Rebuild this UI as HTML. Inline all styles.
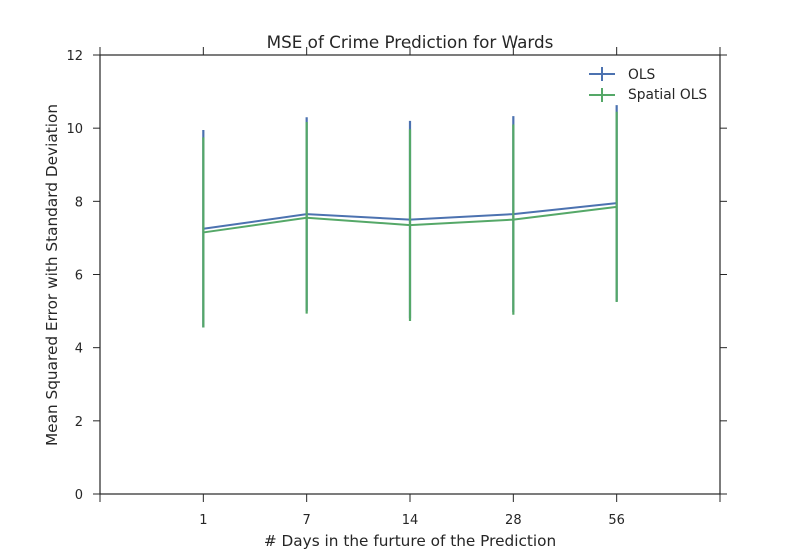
<!DOCTYPE html>
<html><head><meta charset="utf-8"><style>body{margin:0;background:#fff}svg text{font-family:"DejaVu Sans","Liberation Sans",sans-serif;fill:#262626}</style></head>
<body>
<svg id="chart" width="800" height="550">
<rect width="800" height="550" fill="#fff"/>
<text x="410" y="48" text-anchor="middle" font-size="16.8">MSE of Crime Prediction for Wards</text>
<text x="410" y="546" text-anchor="middle" font-size="15.3"># Days in the furture of the Prediction</text>
<text transform="translate(57,275) rotate(-90)" text-anchor="middle" font-size="15.3">Mean Squared Error with Standard Deviation</text>
<g id="axes"></g><g id="marks"></g>
<g>
<g><line x1="589" y1="74" x2="615" y2="74" stroke="#4c72b0" stroke-width="2"/><line x1="602" y1="67" x2="602" y2="81" stroke="#4c72b0" stroke-width="2"/><text x="628" y="79" font-size="13.8">OLS</text></g>
<g><line x1="589" y1="95" x2="615" y2="95" stroke="#55a868" stroke-width="2"/><line x1="602" y1="88" x2="602" y2="102" stroke="#55a868" stroke-width="2"/><text x="628" y="99" font-size="13.8">Spatial OLS</text></g>
</g>
</svg>
<script>
const categories=["1","7","14","28","56"];
const olsMean=[7.25,7.65,7.5,7.65,7.95];
const olsStd=[2.7,2.65,2.7,2.68,2.68];
const spMean=[7.15,7.55,7.35,7.5,7.85];
const spStd=[2.6,2.62,2.62,2.6,2.6];
const yTicks=[0,2,4,6,8,10,12];
const L=100,R=720,T=55,B=494;
const NS="http://www.w3.org/2000/svg";
const xS=i=>L+(i+1)*(R-L)/(categories.length+1);
const yS=v=>B-v*(B-T)/12;
function mk(tag,at,parent){const e=document.createElementNS(NS,tag);for(const k in at)e.setAttribute(k,at[k]);parent.appendChild(e);return e;}
const ax=document.getElementById('axes'),mg=document.getElementById('marks');
const frame=mk('rect',{x:L,y:T,width:R-L,height:B-T,fill:'none',stroke:'#262626','stroke-width':1.2},ax);


yTicks.forEach(v=>{const y=yS(v);
mk('line',{x1:L-7,x2:L,y1:y,y2:y,stroke:'#262626'},ax);mk('line',{x1:R,x2:R+7,y1:y,y2:y,stroke:'#262626'},ax);
const t=mk('text',{x:L-17,y:y+5,'text-anchor':'end','font-size':13},ax);t.textContent=v;

});
const xt=[L,...categories.map((c,i)=>xS(i)),R];
xt.forEach(x=>{mk('line',{x1:x,x2:x,y1:B,y2:B+8,stroke:'#262626'},ax);mk('line',{x1:x,x2:x,y1:T-8,y2:T,stroke:'#262626'},ax);});
categories.forEach((c,i)=>{const t=mk('text',{x:xS(i),y:B+30,'text-anchor':'middle','font-size':13},ax);t.textContent=c;

});
function series(mean,std,col,name){
const g=mk('g',{},mg);


mean.forEach((m,i)=>{const e=mk('line',{x1:xS(i),x2:xS(i),y1:yS(m-std[i]),y2:yS(m+std[i]),stroke:col,'stroke-width':2.2},g);

});
const p=mk('polyline',{points:mean.map((m,i)=>xS(i)+','+yS(m)).join(' '),fill:'none',stroke:col,'stroke-width':2},g);

}
series(olsMean,olsStd,'#4c72b0','ols-series');
series(spMean,spStd,'#55a868','spatial-ols-series');
</script>
</body></html>
